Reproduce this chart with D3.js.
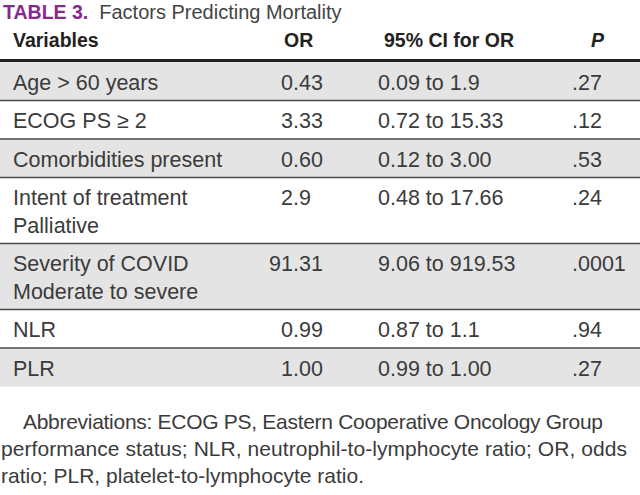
<!DOCTYPE html>
<html>
<head>
<meta charset="utf-8">
<script src="https://cdn.jsdelivr.net/npm/d3@7"></script>
<style>
  html, body { margin: 0; padding: 0; background: #fff; }
  svg { display: block; }
</style>
</head>
<body>
<div id="chart"></div>
<script>
// ---------- data ----------
const titleLabel = "TABLE 3.";
const titleText = "Factors Predicting Mortality";
const headers = ["Variables", "OR", "95% CI for OR", "P"];
const variables = [
  ["Age > 60 years"],
  ["ECOG PS \u2265 2"],
  ["Comorbidities present"],
  ["Intent of treatment", "Palliative"],
  ["Severity of COVID", "Moderate to severe"],
  ["NLR"],
  ["PLR"]
];
const orValues = ["0.43", "3.33", "0.60", "2.9", "91.31", "0.99", "1.00"];
const ciValues = ["0.09 to 1.9", "0.72 to 15.33", "0.12 to 3.00", "0.48 to 17.66", "9.06 to 919.53", "0.87 to 1.1", "0.99 to 1.00"];
const pValues = [".27", ".12", ".53", ".24", ".0001", ".94", ".27"];
const footnoteLines = [
  "Abbreviations: ECOG PS, Eastern Cooperative Oncology Group",
  "performance status; NLR, neutrophil-to-lymphocyte ratio; OR, odds",
  "ratio; PLR, platelet-to-lymphocyte ratio."
];

// ---------- layout ----------
const W = 640, H = 495;
const bodyFont = "'Liberation Sans', Arial, sans-serif";
const bodySize = 21.5;
const textColor = "#3b3b3b";
const lineColor = "#4a4a4a";
const shade = "#e4e4e4";

const svg = d3.select("#chart").append("svg")
  .attr("width", W).attr("height", H);

// Title
const title = svg.append("text").attr("x", 3).attr("y", 18.5);
title.append("tspan")
  .attr("font-family", bodyFont).attr("font-weight", "bold")
  .attr("font-size", 19.5).attr("fill", "#862a8c")
  .text(titleLabel);
title.append("tspan")
  .attr("dx", 11)
  .attr("font-family", bodyFont).attr("font-size", 20)
  .attr("fill", "#444").text(titleText);

// Column x positions (scale over column index)
const colX = d3.scaleOrdinal().domain([0, 1, 2, 3]).range([13, 281, 378, 572]);
const headerX = d3.scaleOrdinal().domain([0, 1, 2, 3]).range([13, 284, 384, 591]);

// Header
svg.append("g").selectAll("text").data(headers).join("text")
  .attr("x", (d, i) => headerX(i))
  .attr("y", 47)
  .attr("font-family", bodyFont)
  .attr("font-weight", "bold")
  .attr("font-style", (d, i) => i === 3 ? "italic" : "normal")
  .attr("font-size", 19.5)
  .attr("fill", "#222")
  .text(d => d);

// Row geometry
const tableTop = 62;
const lineGap = 27.5;
const rowPad = 11;
const rowHeights = variables.map(v => rowPad + lineGap * v.length);
const rowTops = rowHeights.map((h, i) => tableTop + d3.sum(rowHeights.slice(0, i)));

const rows = svg.append("g").selectAll("g").data(variables).join("g")
  .attr("transform", (d, i) => `translate(0,${rowTops[i]})`);

rows.append("rect")
  .attr("x", 0).attr("y", 0).attr("width", W)
  .attr("height", (d, i) => rowHeights[i])
  .attr("fill", (d, i) => i % 2 === 0 ? shade : "#fff");

// separators
rows.filter((d, i) => i > 0).append("line")
  .attr("x1", 0).attr("x2", W).attr("y1", 0).attr("y2", 0)
  .attr("stroke", lineColor).attr("stroke-width", 1.6);

// thick header rule
svg.append("line").attr("x1", 0).attr("x2", W)
  .attr("y1", 60.5).attr("y2", 60.5)
  .attr("stroke", "#222").attr("stroke-width", 3);

const baseY = 27.5;

// variable labels
rows.append("text")
  .attr("font-family", bodyFont).attr("font-size", bodySize).attr("fill", textColor)
  .selectAll("tspan").data(d => d).join("tspan")
  .attr("x", colX(0))
  .attr("y", (d, j) => baseY + j * lineGap)
  .text(d => d);

// measuring helper for decimal alignment
const measurer = svg.append("text")
  .attr("font-family", bodyFont).attr("font-size", bodySize)
  .attr("visibility", "hidden");
function widthOf(s) {
  if (!s) return 0;
  measurer.text(s);
  return measurer.node().getComputedTextLength();
}
const orDecimalX = colX(1) + widthOf("0");

rows.append("text")
  .attr("font-family", bodyFont).attr("font-size", bodySize).attr("fill", textColor)
  .attr("x", (d, i) => orDecimalX - widthOf(orValues[i].split(".")[0]))
  .attr("y", baseY)
  .text((d, i) => orValues[i]);

rows.append("text")
  .attr("font-family", bodyFont).attr("font-size", bodySize).attr("fill", textColor)
  .attr("x", colX(2))
  .attr("y", baseY)
  .text((d, i) => ciValues[i]);

rows.append("text")
  .attr("font-family", bodyFont).attr("font-size", bodySize).attr("fill", textColor)
  .attr("x", (d, i) => colX(3) - widthOf(pValues[i].split(".")[0]))
  .attr("y", baseY)
  .text((d, i) => pValues[i]);

measurer.remove();

// Footnote (justified-looking widths)
const footX = [23, 1, 1];
const footLen = [580, 626, null];
svg.append("g").selectAll("text").data(footnoteLines).join("text")
  .attr("x", (d, i) => footX[i])
  .attr("y", (d, i) => 429 + i * 27)
  .attr("font-family", bodyFont).attr("font-size", 21)
  .attr("fill", textColor)
  .each(function (d, i) {
    if (footLen[i]) d3.select(this).attr("textLength", footLen[i]).attr("lengthAdjust", "spacing");
  })
  .text(d => d);
</script>
</body>
</html>
